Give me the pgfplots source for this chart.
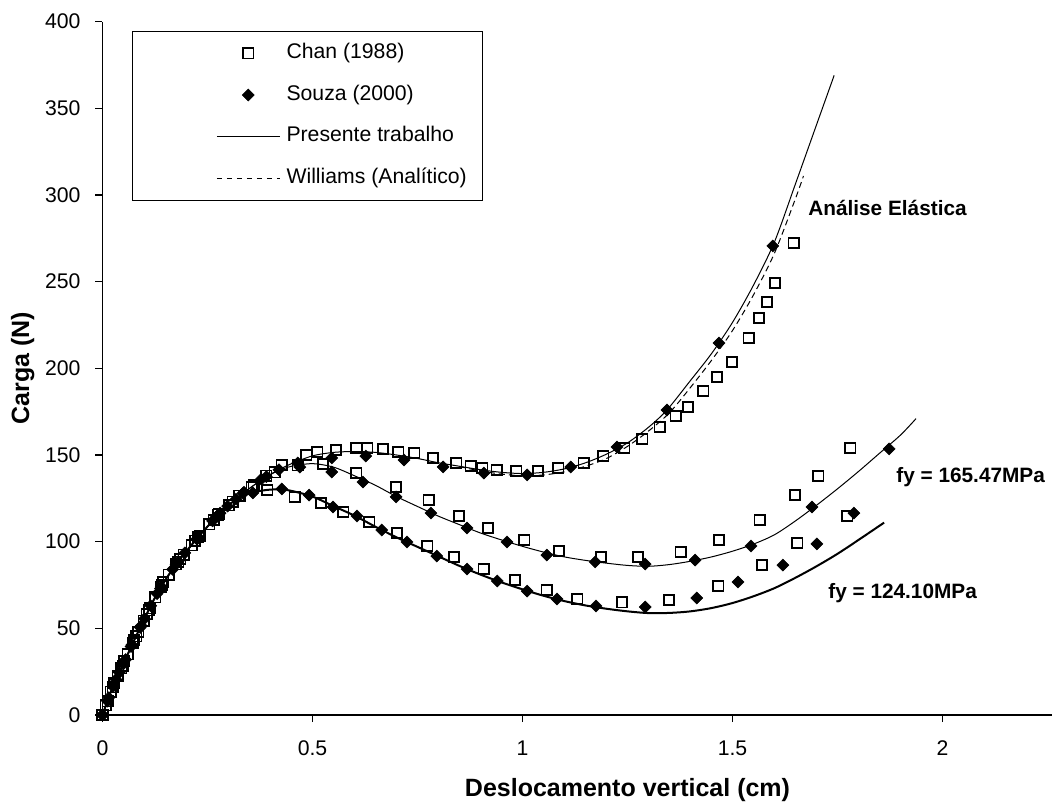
\documentclass[border=0pt]{standalone}
\usepackage{fontspec}
\setmainfont{Liberation Sans}
\usepackage{pgfplots}
\pgfplotsset{compat=1.18}

% legend sample: 31pt long, pushed right inside the box
\pgfplotsset{
  legline/.style={legend image code/.code={%
    \path (-34pt,0pt);
    \draw[mark repeat=2,mark phase=2,##1] plot coordinates {(0pt,0pt) (15.65pt,0pt) (31.3pt,0pt)};}},
  chan/.style={only marks, black, mark=square, mark size=2.6pt, mark options={line width=0.8pt, solid}},
  souza/.style={only marks, black, mark=square*, mark size=2.1pt, mark options={rotate=45, fill=black, line width=0.3pt}},
}

\begin{document}
\begin{tikzpicture}
\begin{axis}[
    scale only axis,
    width=474.6pt, height=346.67pt,
    xmin=0, xmax=2.26,
    ymin=0, ymax=400,
    axis lines*=left,
    x axis line style={line width=1pt},
    y axis line style={line width=0.6pt},
    xtick={0,0.5,1,1.5,2},
    ytick={0,50,100,150,200,250,300,350,400},
    tick align=outside,
    major tick length=3.5pt,
    every tick/.style={black, line width=0.6pt},
    tick label style={font=\fontsize{10.6}{12}\selectfont},
    xticklabel style={yshift=-6pt},
    yticklabel style={xshift=-4pt},
    /pgf/number format/assume math mode=true,
    xlabel={Deslocamento vertical (cm)},
    ylabel={Carga (N)},
    label style={font=\fontsize{12.5}{15}\selectfont\bfseries},
    xlabel style={at={(axis description cs:0.5531,-0.1178)}, anchor=base},
    ylabel style={at={(axis description cs:-0.0774,0.5)}, anchor=base},
    legend style={
        at={(axis description cs:0.0308,0.9871)}, anchor=north west,
        draw=black, line width=0.6pt,
        inner xsep=8pt, inner ysep=6.2pt,
        font=\fontsize{10.6}{12}\selectfont,
        row sep=10.9pt,
        nodes={inner sep=0pt, text height=7.5pt, text depth=2.4pt},
        /tikz/every odd column/.append style={column sep=3.2pt},
    },
    legend cell align=left,
    clip=false,
]

% ---- Chan (1988), elastic
\addplot[chan, forget plot] coordinates {
(0,0) (0.012,8) (0.024,16) (0.036,22.5) (0.048,28.5) (0.060,35) (0.072,41.5)
(0.085,48) (0.098,54.5) (0.112,61.5) (0.126,68) (0.142,75) (0.158,81) (0.175,87)
(0.193,92.5) (0.212,98) (0.232,103.5) (0.254,110) (0.277,116) (0.301,121)
(0.327,126.5) (0.355,131.5) (0.390,138)
(0.427,144.2) (0.485,150.0) (0.511,151.7) (0.556,152.9) (0.604,154.0) (0.630,154.0)
(0.668,153.5) (0.704,151.7) (0.742,151.2) (0.787,148.3) (0.842,145.4) (0.877,143.7)
(0.904,142.5) (0.939,141.3) (0.985,140.8) (1.037,140.8) (1.085,142.5) (1.146,145.4)
(1.192,149.4) (1.242,154.0) (1.285,159.2) (1.327,166.2) (1.365,172.5) (1.394,177.7)
(1.430,186.9) (1.463,195.0) (1.499,203.7) (1.539,217.5) (1.563,229.0) (1.582,238.3)
(1.601,249.2) (1.646,272.3)
};
% ---- Chan (1988), fy = 165.47 MPa
\addplot[chan, forget plot] coordinates {
(0,0) (0.020,13.5) (0.045,27) (0.075,43) (0.105,58) (0.140,74) (0.180,88.5)
(0.220,100.5) (0.265,112.5) (0.310,123) (0.360,132.5) (0.410,140) (0.465,144)
(0.525,144.8) (0.604,139.6) (0.699,131.5) (0.777,124.0) (0.849,114.8) (0.918,107.9)
(1.004,101.0) (1.087,94.6) (1.187,91.2) (1.275,91.2) (1.377,94.0) (1.468,101.0)
(1.565,112.5) (1.649,126.9) (1.704,137.9) (1.780,154.0)
};
% ---- Chan (1988), fy = 124.10 MPa
\addplot[chan, forget plot] coordinates {
(0,0) (0.008,5.5) (0.028,18.5) (0.052,31) (0.080,45.5) (0.110,60.5) (0.145,76.5)
(0.185,90) (0.228,102.5) (0.275,115.5) (0.325,126.5)
(0.392,129.8) (0.458,125.8) (0.520,122.3) (0.573,117.1) (0.635,111.3) (0.701,105.0)
(0.773,97.5) (0.837,91.2) (0.908,84.2) (0.982,77.9) (1.058,72.1) (1.130,66.9)
(1.237,65.1) (1.349,66.3) (1.466,74.4) (1.570,86.5) (1.654,99.2) (1.773,114.8)
};

% ---- Souza (2000), elastic
\addplot[souza, forget plot] coordinates {
(0,0) (0.015,10) (0.032,20.5) (0.050,29.5) (0.070,40.5) (0.092,51.5) (0.115,63)
(0.140,74) (0.167,84) (0.196,93.5) (0.228,102.5) (0.262,112) (0.298,120.5)
(0.337,128.5) (0.378,136) (0.420,141.5)
(0.465,145.4) (0.546,148.3) (0.627,149.4) (0.718,147.1) (0.811,143.1) (0.908,139.6)
(1.011,138.5) (1.115,143.1) (1.225,154.6) (1.344,176.0) (1.468,214.6) (1.596,270.6)
};
% ---- Souza (2000), fy = 165.47 MPa
\addplot[souza, forget plot] coordinates {
(0,0) (0.025,16.5) (0.055,32) (0.090,50.5) (0.130,70) (0.175,87) (0.225,101.5)
(0.280,116.5) (0.335,128) (0.390,137.5) (0.470,143)
(0.546,140.2) (0.620,134.4) (0.699,125.8) (0.782,116.5) (0.868,107.9) (0.963,99.8)
(1.058,92.3) (1.173,88.3) (1.292,87.1) (1.411,89.4) (1.544,97.5) (1.689,120.0)
(1.873,153.5)
};
% ---- Souza (2000), fy = 124.10 MPa
\addplot[souza, forget plot] coordinates {
(0,0) (0.012,8) (0.040,24.5) (0.068,39.5) (0.100,55.5) (0.138,73) (0.180,88.5)
(0.225,101.5) (0.272,114.5) (0.318,124.5)
(0.358,128.1) (0.427,130.4) (0.492,126.9) (0.549,120.0) (0.606,114.8) (0.665,106.7)
(0.725,99.8) (0.796,91.7) (0.868,84.2) (0.940,77.3) (1.011,71.5) (1.082,66.9)
(1.175,62.9) (1.292,62.3) (1.415,67.5) (1.513,76.7) (1.620,86.5) (1.701,98.7)
(1.789,116.5)
};

% ---- Presente trabalho: elastic analysis
\addplot[black, line width=0.5pt, smooth, forget plot] coordinates {
(0,0) (0.02,13.5) (0.04,24.5) (0.06,35) (0.08,45.5) (0.10,55.5) (0.12,65.5)
(0.15,78) (0.18,88.5) (0.21,97.5) (0.24,106) (0.27,114) (0.30,121) (0.33,127)
(0.36,132.5) (0.39,137.5) (0.42,141.5) (0.45,145) (0.50,149.5) (0.55,151.5)
(0.60,152) (0.65,151.5) (0.70,150) (0.75,148) (0.80,145.5) (0.85,143.5) (0.90,141.5)
(0.95,140) (1.00,139.3) (1.05,140) (1.10,142) (1.15,145.5) (1.20,150.5) (1.25,157)
(1.30,166) (1.344,176) (1.40,193) (1.45,208.5) (1.50,226.5) (1.55,248) (1.60,273)
(1.65,306.5) (1.70,340.5) (1.742,369)
};
% ---- Williams (analytical)
\addplot[black, line width=0.5pt, dash pattern=on 3pt off 2pt, smooth, forget plot] coordinates {
(0.85,143.3) (0.90,140.8) (0.95,139) (1.00,138) (1.05,138.5) (1.10,140.3)
(1.15,143.5) (1.20,148) (1.25,155) (1.30,163.8) (1.35,174.4) (1.40,189) (1.45,204.6)
(1.50,221.8) (1.55,242.4) (1.60,266.5) (1.65,298) (1.669,311)
};
% ---- Presente trabalho: fy = 165.47 MPa
\addplot[black, line width=0.5pt, smooth, forget plot] coordinates {
(0,0) (0.02,13.5) (0.04,24.5) (0.06,35) (0.08,45.5) (0.10,55.5) (0.12,65.5)
(0.15,78) (0.18,88.5) (0.21,97.5) (0.24,106) (0.27,114) (0.30,121) (0.33,127)
(0.36,132.5) (0.39,137.5) (0.42,141) (0.45,143.5) (0.50,145) (0.55,143) (0.60,138)
(0.65,132.5) (0.70,126) (0.75,120.3) (0.80,114.7) (0.85,109.8) (0.90,105) (0.95,101)
(1.00,97.3) (1.05,94) (1.10,91.2) (1.15,89.2) (1.20,87.6) (1.25,86.3) (1.30,85.8)
(1.35,86.8) (1.40,88.7) (1.45,91.2) (1.50,94.5) (1.55,98.6) (1.60,104) (1.65,112)
(1.70,121) (1.75,130.5) (1.80,140.5) (1.85,151) (1.90,161.5) (1.937,171)
};
% ---- Presente trabalho: fy = 124.10 MPa
\addplot[black, line width=1pt, smooth, forget plot] coordinates {
(0,0) (0.02,13.5) (0.04,24.5) (0.06,35) (0.08,45.5) (0.10,55.5) (0.12,65.5)
(0.15,78) (0.18,88.5) (0.21,97.5) (0.24,106) (0.27,114) (0.30,121) (0.33,126)
(0.36,128.5) (0.39,129.8) (0.42,130.2) (0.45,129.3) (0.50,126) (0.55,120.5)
(0.60,115) (0.65,108.6) (0.70,102.5) (0.75,97) (0.80,91.5) (0.85,86) (0.90,81)
(0.95,76.5) (1.00,72.5) (1.05,68.8) (1.10,65.7) (1.15,63.2) (1.20,61.3) (1.25,59.8)
(1.30,58.8) (1.35,58.9) (1.40,59.8) (1.45,61.7) (1.50,64.6) (1.55,68.5) (1.60,73.2)
(1.65,79.2) (1.70,85.8) (1.75,93) (1.80,101) (1.861,111)
};

% legend entries
\addlegendimage{chan, legline}
\addlegendentry{Chan (1988)}
\addlegendimage{souza, legline}
\addlegendentry{Souza (2000)}
\addlegendimage{black, line width=0.6pt, legline}
\addlegendentry{Presente trabalho}
\addlegendimage{black, line width=0.5pt, dash pattern=on 2.5pt off 2.5pt, legline}
\addlegendentry{Williams (Analítico)}

% curve labels
\node[font=\fontsize{10.4}{12}\selectfont\bfseries, anchor=base] at (axis cs:1.869,287.9) {Análise Elástica};
\node[font=\fontsize{10.4}{12}\selectfont\bfseries, anchor=base] at (axis cs:2.067,134.0) {fy = 165.47MPa};
\node[font=\fontsize{10.4}{12}\selectfont\bfseries, anchor=base] at (axis cs:1.905,67.3) {fy = 124.10MPa};

\end{axis}
\pgfresetboundingbox
\path[use as bounding box] (-51.25pt,-43.5pt) rectangle (474.75pt,357.5pt);
\end{tikzpicture}
\end{document}
